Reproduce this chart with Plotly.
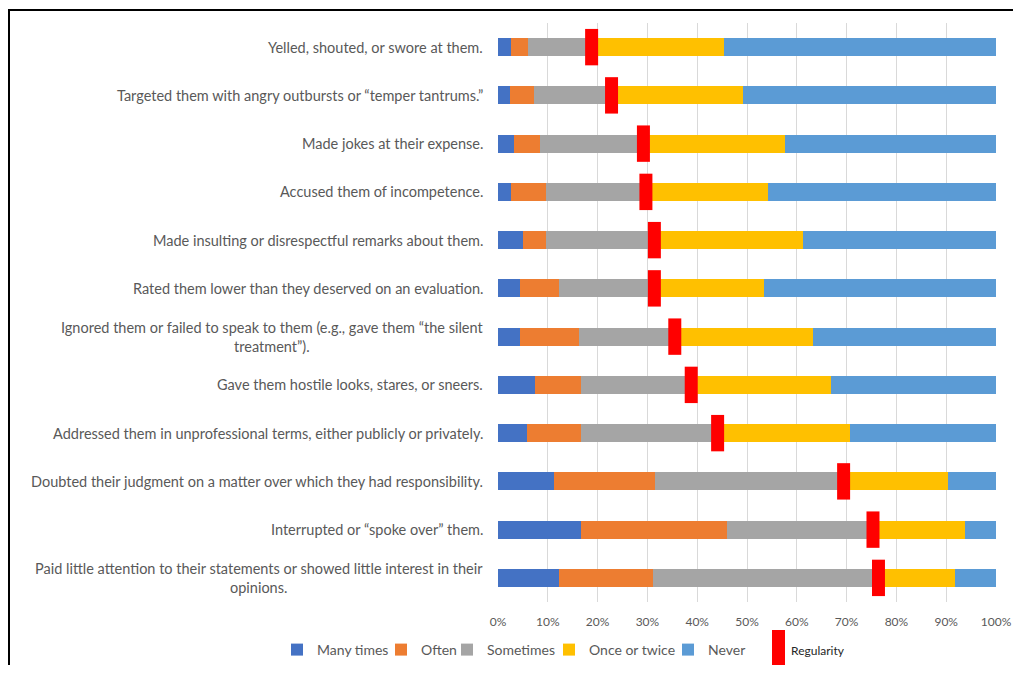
import plotly.graph_objects as go

categories = [
    "Yelled, shouted, or swore at them.",
    "Targeted them with angry outbursts or \u201ctemper tantrums.\u201d",
    "Made jokes at their expense.",
    "Accused them of incompetence.",
    "Made insulting or disrespectful remarks about them.",
    "Rated them lower than they deserved on an evaluation.",
    "Ignored them or failed to speak to them (e.g., gave them \u201cthe silent<br>treatment\u201d).",
    "Gave them hostile looks, stares, or sneers.",
    "Addressed them in unprofessional terms, either publicly or privately.",
    "Doubted their judgment on a matter over which they had responsibility.",
    "Interrupted or \u201cspoke over\u201d them.",
    "Paid little attention to their statements or showed little interest in their<br>opinions.",
]

many_times = [2.7, 2.5, 3.2, 2.7, 5.0, 4.4, 4.4, 7.4, 5.9, 11.3, 16.6, 12.3]
often = [3.3, 4.7, 5.2, 7.0, 4.7, 7.8, 11.8, 9.2, 10.7, 20.2, 29.4, 18.8]
sometimes = [12.8, 15.6, 20.8, 20.0, 21.7, 19.2, 19.3, 22.2, 27.5, 37.9, 29.3, 45.3]
once_or_twice = [26.5, 26.3, 28.4, 24.5, 29.9, 22.1, 27.8, 28.0, 26.5, 21.0, 18.5, 15.4]
never = [54.7, 50.9, 42.4, 45.8, 38.7, 46.5, 36.7, 33.2, 29.4, 9.6, 6.2, 8.2]
regularity = [18.8, 22.8, 29.2, 29.7, 31.4, 31.4, 35.5, 38.8, 44.1, 69.4, 75.3, 76.4]

series_names = ["Many times", "Often", "Sometimes", "Once or twice", "Never"]
series_values = [many_times, often, sometimes, once_or_twice, never]
series_colors = ["#4472C4", "#ED7D31", "#A5A5A5", "#FFC000", "#5B9BD5"]
x_ticks = [0, 10, 20, 30, 40, 50, 60, 70, 80, 90, 100]
x_tick_labels = ["0%", "10%", "20%", "30%", "40%", "50%", "60%", "70%", "80%", "90%", "100%"]

FONT = "Lato"
GREY = "#595959"

# page body has an 8px margin: work in screen pixels, convert to figure pixels
OFF = 8
W, H = 1021 - 2 * OFF, 673 - 2 * OFF
L, R = 498 - OFF, W - (996 - OFF)
T, B = 23 - OFF, H - (602 - OFF)
PW, PH = W - L - R, H - T - B


def px_x(p):
    return (p - OFF - L) / PW


def px_y(p):
    return (H - B - (p - OFF)) / PH


legend_text_x = [316, 420, 486, 588, 707]
LEG_Y = 650

fig = go.Figure()
legend_layouts = {}
for i, (name, vals, col) in enumerate(zip(series_names, series_values, series_colors)):
    lname = "legend" if i == 0 else f"legend{i + 1}"
    fig.add_trace(go.Bar(
        y=categories, x=vals, name=name, orientation="h",
        marker=dict(color=col, line=dict(width=0)),
        legend=lname,
    ))
    legend_layouts[lname] = dict(
        orientation="h", x=px_x(legend_text_x[i] - 39), xanchor="left",
        y=px_y(LEG_Y), yanchor="middle",
        font=dict(family=FONT, size=14, color=GREY),
        bgcolor="rgba(0,0,0,0)",
    )

fig.add_trace(go.Scatter(
    y=categories, x=regularity, mode="markers", name="Regularity",
    marker=dict(symbol="line-ns", size=26, color="#FF0000",
                line=dict(color="#FF0000", width=13)),
    showlegend=False,
))

annotations = []
for c in categories:
    annotations.append(dict(
        x=0, xref="paper", xanchor="right", xshift=-13,
        y=c, yref="y", yanchor="middle",
        text=c, align="center", showarrow=False,
        font=dict(family=FONT, size=14.5, color=GREY),
    ))

annotations.append(dict(
    x=px_x(789), xref="paper", xanchor="left",
    y=px_y(LEG_Y), yref="paper", yanchor="middle",
    text="Regularity", showarrow=False,
    font=dict(family=FONT, size=12, color="#262626"),
))

shapes = [
    dict(type="rect", xref="paper", yref="paper",
         x0=px_x(9), x1=px_x(1060), y0=px_y(720), y1=px_y(10),
         line=dict(color="black", width=2), fillcolor="rgba(0,0,0,0)"),
    dict(type="rect", xref="paper", yref="paper",
         x0=px_x(772), x1=px_x(785), y0=px_y(666), y1=px_y(630),
         line=dict(width=0), fillcolor="#FF0000"),
]

fig.update_layout(
    width=W, height=H,
    margin=dict(l=L, r=R, t=T, b=B, autoexpand=False),
    paper_bgcolor="white", plot_bgcolor="white",
    barmode="stack", bargap=0.627,
    font=dict(family=FONT, color=GREY),
    showlegend=True,
    annotations=annotations,
    shapes=shapes,
    **legend_layouts,
)
fig.update_xaxes(range=[0, 100], tickvals=x_ticks, ticktext=x_tick_labels,
                 showgrid=True, gridcolor="#D9D9D9", gridwidth=1,
                 zeroline=False, showline=False,
                 ticks="outside", ticklen=9, tickcolor="rgba(0,0,0,0)",
                 tickfont=dict(family=FONT, size=12, color=GREY))
fig.update_yaxes(range=[len(categories) - 0.5, -0.5], showticklabels=False,
                 showgrid=False, zeroline=False, showline=False)

fig.write_html("out.html")
